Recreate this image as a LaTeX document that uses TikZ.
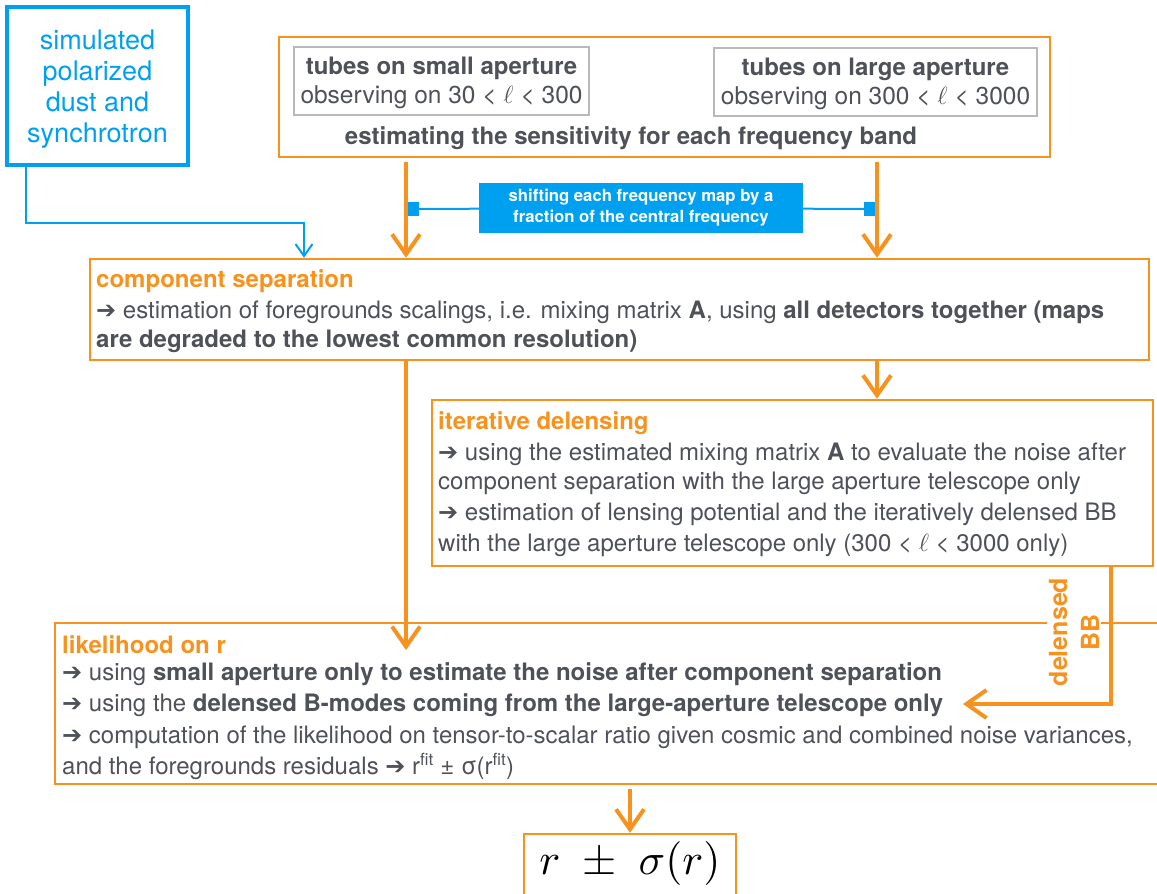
\documentclass[tikz,border=0pt]{standalone}
\usepackage{fontspec}
\setmainfont{TeX Gyre Heros}
\newfontfamily\symf{DejaVu Sans}
\usetikzlibrary{arrows.meta}
\definecolor{cor}{RGB}{247,146,30}
\definecolor{cbl}{RGB}{0,160,240}
\definecolor{ctx}{RGB}{78,81,88}
\definecolor{cgr}{RGB}{185,185,185}
\newcommand\harr{{\symf ➔}}
\newcommand\bodyfont{\fontsize{24}{30}\selectfont}
\begin{document}
\begin{tikzpicture}[x=1pt,y=-1pt,
  obox/.style={draw=cor,line width=2.5pt,inner sep=0pt},
  gbox/.style={draw=cgr,line width=1.5pt,inner sep=0pt},
  bbox/.style={draw=cbl,line width=4pt,inner sep=0pt},
  oarrow/.style={draw=cor,line width=4pt,
    -{Straight Barb[length=20pt,width=28pt,line width=4pt]}},
  barrow/.style={draw=cbl,line width=2pt,
    -{Straight Barb[length=12pt,width=17pt,line width=2pt]}},
  bline/.style={draw=cbl,line width=2pt},
  sq/.style={fill=cbl,minimum size=14pt,inner sep=0pt},
  bodytext/.style={anchor=west,inner sep=0pt,text=ctx,font=\bodyfont},
  titletext/.style={anchor=west,inner sep=0pt,text=cor,font=\bodyfont\bfseries},
  headtext/.style={inner sep=0pt,text=ctx,font=\fontsize{24}{26}\selectfont},
]
\useasboundingbox (0,0) rectangle (1157,894);

% source of the foreground maps
\node[bbox,minimum width=181pt,minimum height=158pt] (sim) at (97.5,86) {};
\node[inner sep=0pt,text=cbl,align=center,font=\fontsize{27}{31}\selectfont] (simT) at (97.5,89.5)
  {simulated\\polarized\\dust and\\synchrotron};

% telescope tubes
\node[obox,minimum width=771pt,minimum height=120pt] (tubes) at (664.5,97) {};
\node[gbox,minimum width=295pt,minimum height=68pt] (sat) at (441.5,81) {};
\node[gbox,minimum width=323pt,minimum height=68pt] (lat) at (875.5,82) {};
\node[headtext,font=\fontsize{24}{26}\selectfont\bfseries] (satT) at (441.5,68) {tubes on small aperture};
\node[headtext,font=\fontsize{24.5}{26}\selectfont] (satO) at (441.5,97) {observing on 30 < $\ell$ < 300};
\node[headtext,font=\fontsize{24}{26}\selectfont\bfseries] (latT) at (875.5,69) {tubes on large aperture};
\node[headtext,font=\fontsize{24.5}{26}\selectfont] (latO) at (875.5,98) {observing on 300 < $\ell$ < 3000};
\node[headtext,font=\fontsize{24}{26}\selectfont\bfseries] (sens) at (631,138) {estimating the sensitivity for each frequency band};

% frequency shift label
\node[fill=cbl,text=white,align=center,minimum width=324pt,minimum height=50pt,inner sep=0pt,
  font=\fontsize{16.7}{21}\selectfont\bfseries] (shift) at (641,208)
  {shifting each frequency map by a\\fraction of the central frequency};
\node[sq] (sqL) at (412,209) {};
\node[sq] (sqR) at (871,209) {};

% component separation
\node[obox,minimum width=1059pt,minimum height=101pt] (cs) at (619.5,309.5) {};
\node[titletext] (csT) at (96,281) {component separation};
\node[bodytext] (cs1) at (96,312) {\harr{} estimation of foregrounds scalings, i.e. mixing matrix \textbf{A}, using \textbf{all detectors together (maps}};
\node[bodytext] (cs2) at (96,341) {\textbf{are degraded to the lowest common resolution)}};

% iterative delensing
\node[obox,minimum width=721pt,minimum height=166pt] (it) at (792.5,483) {};
\node[titletext] (itT) at (438,423) {iterative delensing};
\node[bodytext] (it1) at (438,454) {\harr{} using the estimated mixing matrix \textbf{A} to evaluate the noise after};
\node[bodytext] (it2) at (438,483) {component separation with the large aperture telescope only};
\node[bodytext] (it3) at (438,514) {\harr{} estimation of lensing potential and the iteratively delensed BB};
\node[bodytext] (it4) at (438,545) {with the large aperture telescope only (300 < $\ell$ < 3000 only)};

% likelihood
\node[obox,minimum width=1125pt,minimum height=161pt] (lik) at (617.5,703.5) {};
\node[titletext] (likT) at (62,645) {likelihood on r};
\node[bodytext] (lik1) at (62,674) {\harr{} using \textbf{small aperture only to estimate the noise after component separation}};
\node[bodytext] (lik2) at (62,705) {\harr{} using the \textbf{delensed B-modes coming from the large-aperture telescope only}};
\node[bodytext] (lik3) at (62,737) {\harr{} computation of the likelihood on tensor-to-scalar ratio given cosmic and combined noise variances,};
\node[bodytext] (lik4) at (62,766) {and the foregrounds residuals \harr{} r\textsuperscript{fit} ± σ(r\textsuperscript{fit})};

% result
\node[obox,minimum width=212pt,minimum height=80pt] (res) at (630,874) {};
\node[inner sep=0pt] (resT) at (630,864) {\resizebox{181pt}{!}{$r\ \pm\ \sigma(r)$}};

% delensed BB label over the likelihood frame
\node[fill=white,text=cor,align=center,rotate=90,inner xsep=4pt,inner ysep=2pt,minimum width=100pt,
  font=\fontsize{25}{32}\selectfont\bfseries] (dbb) at (1074,632) {delensed\\BB};

% connectors
\coordinate (xL) at (406,0);
\coordinate (xR) at (877,0);
\coordinate (xB) at (26,0);
\coordinate (bend) at (304,223);
\coordinate (likin) at (406,650);
\coordinate (xD) at (1111,0);
\coordinate (bbin) at (963,704);
\coordinate (xM) at (630,0);

\draw[barrow] (sim.south -| xB) |- (bend) -- (cs.north -| bend);
\draw[oarrow,shorten <=4pt] (tubes.south -| xL) -- (cs.north -| xL);
\draw[oarrow,shorten <=4pt] (tubes.south -| xR) -- (cs.north -| xR);
\draw[bline] (sqL) -- (shift);
\draw[bline] (shift) -- (sqR);
\draw[oarrow] (cs.south -| xR) -- (it.north -| xR);
\draw[oarrow] (cs.south -| xL) -- (likin);
\draw[oarrow] (it.south -| xD) |- (bbin);
\draw[oarrow,shorten <=4pt] (lik.south -| xM) -- (res.north);
\end{tikzpicture}
\end{document}
